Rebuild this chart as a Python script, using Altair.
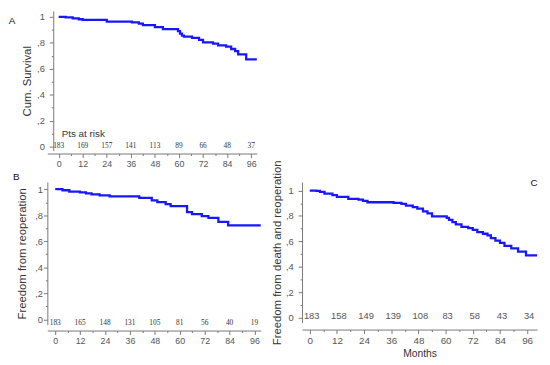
import altair as alt
import pandas as pd

# ---------------- data ----------------
risk_months = [0, 12, 24, 36, 48, 60, 72, 84, 96]

a_month = [0, 3.5, 7, 10, 12, 24, 36.5, 40, 42, 48, 52, 59.5, 60.5, 61.5, 62.5,
           66.5, 70, 72, 77, 79.5, 83.5, 86, 88, 89.5, 93.5, 98.8]
a_surv = [1.0, 0.995, 0.988, 0.981, 0.976, 0.963, 0.957, 0.948, 0.935, 0.92,
          0.905, 0.89, 0.87, 0.855, 0.848, 0.838, 0.823, 0.803, 0.793, 0.78,
          0.77, 0.752, 0.735, 0.71, 0.672, 0.672]
a_risk = [183, 169, 157, 141, 113, 89, 66, 48, 37]

b_month = [0, 3.5, 6.8, 11.9, 14.8, 17.5, 21.4, 26.2, 40.5, 46.5, 49.2, 53.2,
           55.6, 63.5, 65.9, 70.6, 73.8, 78.6, 83.3, 99.0]
b_surv = [1.0, 0.992, 0.982, 0.975, 0.968, 0.96, 0.952, 0.945, 0.934, 0.915,
          0.9, 0.885, 0.87, 0.824, 0.809, 0.794, 0.779, 0.749, 0.723, 0.723]
b_risk = [183, 165, 148, 131, 105, 81, 56, 40, 19]

c_month = [0, 3, 4.5, 6.5, 10, 12, 17, 21.5, 23.5, 25.5, 37, 40.5, 42.5, 45.5,
           47.5, 50, 52, 54, 60.5, 61.5, 63, 64.5, 67, 70, 72, 74, 76.5, 78.5,
           80, 82, 84, 86, 89, 92, 95.5, 100.4]
c_surv = [1.0, 0.997, 0.99, 0.975, 0.965, 0.95, 0.935, 0.928, 0.918, 0.908,
          0.903, 0.895, 0.882, 0.87, 0.857, 0.837, 0.82, 0.797, 0.785, 0.77,
          0.752, 0.733, 0.715, 0.705, 0.69, 0.672, 0.66, 0.647, 0.625, 0.605,
          0.588, 0.565, 0.545, 0.52, 0.49, 0.49]
c_risk = [183, 158, 149, 139, 108, 83, 58, 43, 34]

y_major = [0, 0.2, 0.4, 0.6, 0.8, 1.0]
y_minor = [0.1, 0.3, 0.5, 0.7, 0.9]
x_major = [0, 12, 24, 36, 48, 60, 72, 84, 96]
x_minor = [6, 18, 30, 42, 54, 66, 78, 90]

FONT = "Liberation Sans"
BLUE = "#1717ff"

y_label_expr = ("datum.value < 0.001 ? '0' : (datum.value > 0.999 ? '1' : "
                "',' + format(datum.value*10, '.0f'))")


def panel(month, surv, risk, risk_y, xdom, ydom, w, h, ytitle, ytitle_pad,
          ylabel_pad, y_offset, x_offset, xlabel_size, risk_font, risk_size,
          risk_color, letter, lx, ly, xtitle=None, pts_label=False, risk_dx=0):
    df = pd.DataFrame({"month": month, "surv": surv})
    rdf = pd.DataFrame({"month": risk_months, "n": risk})

    xaxis_kw = dict(
        values=x_major, tickSize=4, offset=x_offset, labelFontSize=xlabel_size,
        labelPadding=2, labelOverlap=False, labelFlush=False, grid=False,
    )
    if xtitle:
        xaxis_kw.update(title=xtitle, titleFontSize=10.5, titlePadding=3,
                        titleFontWeight="normal", titleColor="#333")
    else:
        xaxis_kw.update(title=None)

    xs = alt.Scale(domain=xdom, nice=False, zero=False)
    ys = alt.Scale(domain=ydom, nice=False, zero=False)

    line = alt.Chart(df).mark_line(
        interpolate="step-after", color=BLUE, strokeWidth=2.3
    ).encode(
        x=alt.X("month:Q", scale=xs, axis=alt.Axis(**xaxis_kw)),
        y=alt.Y("surv:Q", scale=ys, axis=alt.Axis(
            values=y_major, labelExpr=y_label_expr, tickSize=4,
            offset=y_offset,
            title=ytitle, titleFontSize=11.5, titleFontWeight="normal",
            titleColor="#333", titlePadding=ytitle_pad, labelPadding=ylabel_pad,
            labelFontSize=9.5, labelOverlap=False, labelFlush=False, grid=False,
        )),
    )

    minor = alt.Chart(df).mark_line(opacity=0).encode(
        x=alt.X("month:Q", scale=xs, axis=alt.Axis(
            values=x_minor, labels=False, domain=False, tickSize=2,
            offset=x_offset, title=None, grid=False, orient="bottom")),
        y=alt.Y("surv:Q", scale=ys, axis=alt.Axis(
            values=y_minor, labels=False, domain=False, tickSize=2,
            offset=y_offset, title=None, grid=False, orient="left")),
    )

    risk_t = alt.Chart(rdf).mark_text(
        font=risk_font, fontSize=risk_size, color=risk_color, dx=risk_dx
    ).encode(
        x=alt.X("month:Q", scale=xs, axis=None),
        y=alt.YDatum(risk_y, axis=None),
        text="n:Q",
    )

    letter_t = alt.Chart(pd.DataFrame({"t": [letter]})).mark_text(
        font=FONT, fontSize=10, color="#111", align="center", baseline="middle"
    ).encode(x=alt.value(lx), y=alt.value(ly), text="t:N")

    layers = [line, minor, risk_t, letter_t]
    if pts_label:
        layers.append(
            alt.Chart(pd.DataFrame({"t": ["Pts at risk"]})).mark_text(
                font=FONT, fontSize=10, color="#333", align="left", baseline="middle"
            ).encode(x=alt.XDatum(1.5, axis=None), y=alt.YDatum(0.1, axis=None),
                     text="t:N")
        )
    return alt.layer(*layers).resolve_axis(x="independent", y="independent") \
        .properties(width=w, height=h)


A = panel(a_month, a_surv, a_risk, 0.008, [-5.64, 98.8], [-0.03, 1.045], 213, 142,
          "Cum. Survival", 4, 5, -6, 3, 9, "Liberation Serif", 7.5, "#333",
          "A", -36, 10, pts_label=True)
B = panel(b_month, b_surv, b_risk, -0.025, [-3.8, 99], [-0.04, 1.055], 217, 145,
          "Freedom from reoperation", 7, 1, 0, 6, 9, "Liberation Serif", 7.5, "#333",
          "B", -31.5, -5)
C = panel(c_month, c_surv, c_risk, 0.015, [-3.4, 100.4], [-0.04, 1.067], 239, 143,
          "Freedom from death and reoperation", 3, 5, 0, 7, 10, FONT, 9.5, "#555",
          "C", 236, 1.5, xtitle="Months", risk_dx=2)

spacer = alt.Chart(pd.DataFrame({"a": [0]})).mark_point(opacity=0, size=1).encode(
    x=alt.X("a:Q", axis=None), y=alt.Y("a:Q", axis=None)
).properties(width=1, height=40)

chart = alt.concat(
    A, spacer, B, C, columns=2, spacing={"row": 32, "column": 42},
    bounds="flush", align="each",
).properties(
    padding={"left": 0, "top": 0, "right": 0, "bottom": 0},
    background="white",
).configure_view(strokeWidth=0).configure_axis(
    domainColor="#777", tickColor="#777", labelColor="#555",
    labelFont=FONT, titleFont=FONT,
)

chart.save("out.html", embed_options={"renderer": "svg", "actions": False})
